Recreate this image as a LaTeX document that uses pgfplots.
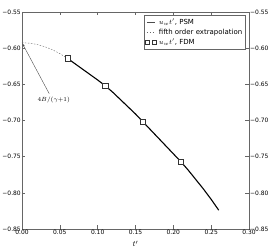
\documentclass[border=0pt]{standalone}
\usepackage{fontspec}
\setmainfont{DejaVu Sans}
\usepackage{pgfplots}
\usetikzlibrary{arrows.meta}
\pgfplotsset{compat=1.18}
\begin{document}
\begin{tikzpicture}
\pgfplotsset{
  common/.style={
    scale only axis, width=227bp, height=217bp,
    xmin=0, xmax=0.30, ymin=-0.85, ymax=-0.55,
    axis line style={gray!80!black, line width=0.5pt},
    tick style={gray!80!black, line width=0.4pt},
    major tick length=3.5bp,
    tick align=inside,
    ytick={-0.85,-0.80,-0.75,-0.70,-0.65,-0.60,-0.55},
    yticklabels={−0.85,−0.80,−0.75,−0.70,−0.65,−0.60,−0.55},
    ticklabel style={font=\fontsize{6}{7}\selectfont, inner sep=1pt},
  }
}
\begin{axis}[common,
  xtick={0,0.05,0.10,0.15,0.20,0.25,0.30},
  xticklabels={0.00,0.05,0.10,0.15,0.20,0.25,0.30},
  xtick pos=both, ytick pos=both, yticklabel pos=left,
  xlabel={$t'$}, xlabel style={font=\fontsize{8}{9}\selectfont, at={(axis description cs:0.5,-0.068)}, anchor=center},
  legend style={at={(0.985,0.985)}, anchor=north east, draw=gray!80!black,
    font=\fontsize{7}{8}\selectfont, inner sep=1.2pt, row sep=-1pt,
    cells={anchor=west}},
]
\addplot[black, line width=1.1pt, legend image code/.code={\draw[black!70, line width=0.4pt] (0cm,0cm) -- (0.3cm,0cm);}] coordinates {
(0.06,-0.614) (0.07,-0.6215) (0.08,-0.629) (0.09,-0.6365) (0.10,-0.644)
(0.11,-0.652) (0.12,-0.661) (0.13,-0.671) (0.14,-0.681) (0.15,-0.691)
(0.16,-0.702) (0.17,-0.713) (0.18,-0.724) (0.19,-0.735) (0.20,-0.746)
(0.21,-0.757) (0.22,-0.769) (0.23,-0.782) (0.24,-0.795) (0.25,-0.809)
(0.26,-0.824)};
\addlegendentry{$u_{w}t'$, PSM}
\addplot[gray!80!black, line width=0.4pt, dash pattern=on 1.5pt off 1.5pt, legend image code/.code={\draw[gray!80!black, line width=0.4pt, dash pattern=on 1.5pt off 1.5pt] (0cm,0cm) -- (0.3cm,0cm);}] coordinates {
(0.00,-0.5925) (0.01,-0.5931) (0.02,-0.5949) (0.03,-0.5979)
(0.04,-0.6021) (0.05,-0.6075) (0.06,-0.6141)};
\addlegendentry{fifth order extrapolation}
\addplot[only marks, mark=square*, mark size=2.6bp, mark options={fill=white, draw=black!80, line width=0.5pt},
  legend image code/.code={\draw[fill=white, draw=black!80, line width=0.5pt] (-0.05cm,-0.07cm) rectangle (0.09cm,0.07cm); \draw[fill=white, draw=black!80, line width=0.5pt] (0.2cm,-0.07cm) rectangle (0.34cm,0.07cm);}] coordinates {
(0.06,-0.614) (0.11,-0.652) (0.16,-0.702) (0.21,-0.757)};
\addlegendentry{$u_{w}t'$, FDM}
\draw[gray!60!black, line width=0.4pt, -{Latex[length=3bp,width=2bp]}] (axis cs:0.036,-0.663) -- (axis cs:0.0005,-0.5935);
\node[font=\fontsize{6}{7}\selectfont, inner sep=0pt] at (axis cs:0.042,-0.672) {$4B/(\gamma{+}1)$};
\end{axis}
\begin{axis}[common,
  axis x line=none, axis y line*=right, ytick pos=right, yticklabel pos=right,
]
\end{axis}
\pgfresetboundingbox
\path[use as bounding box] (-22bp,-21bp) rectangle (251bp,229bp);
\end{tikzpicture}
\end{document}
